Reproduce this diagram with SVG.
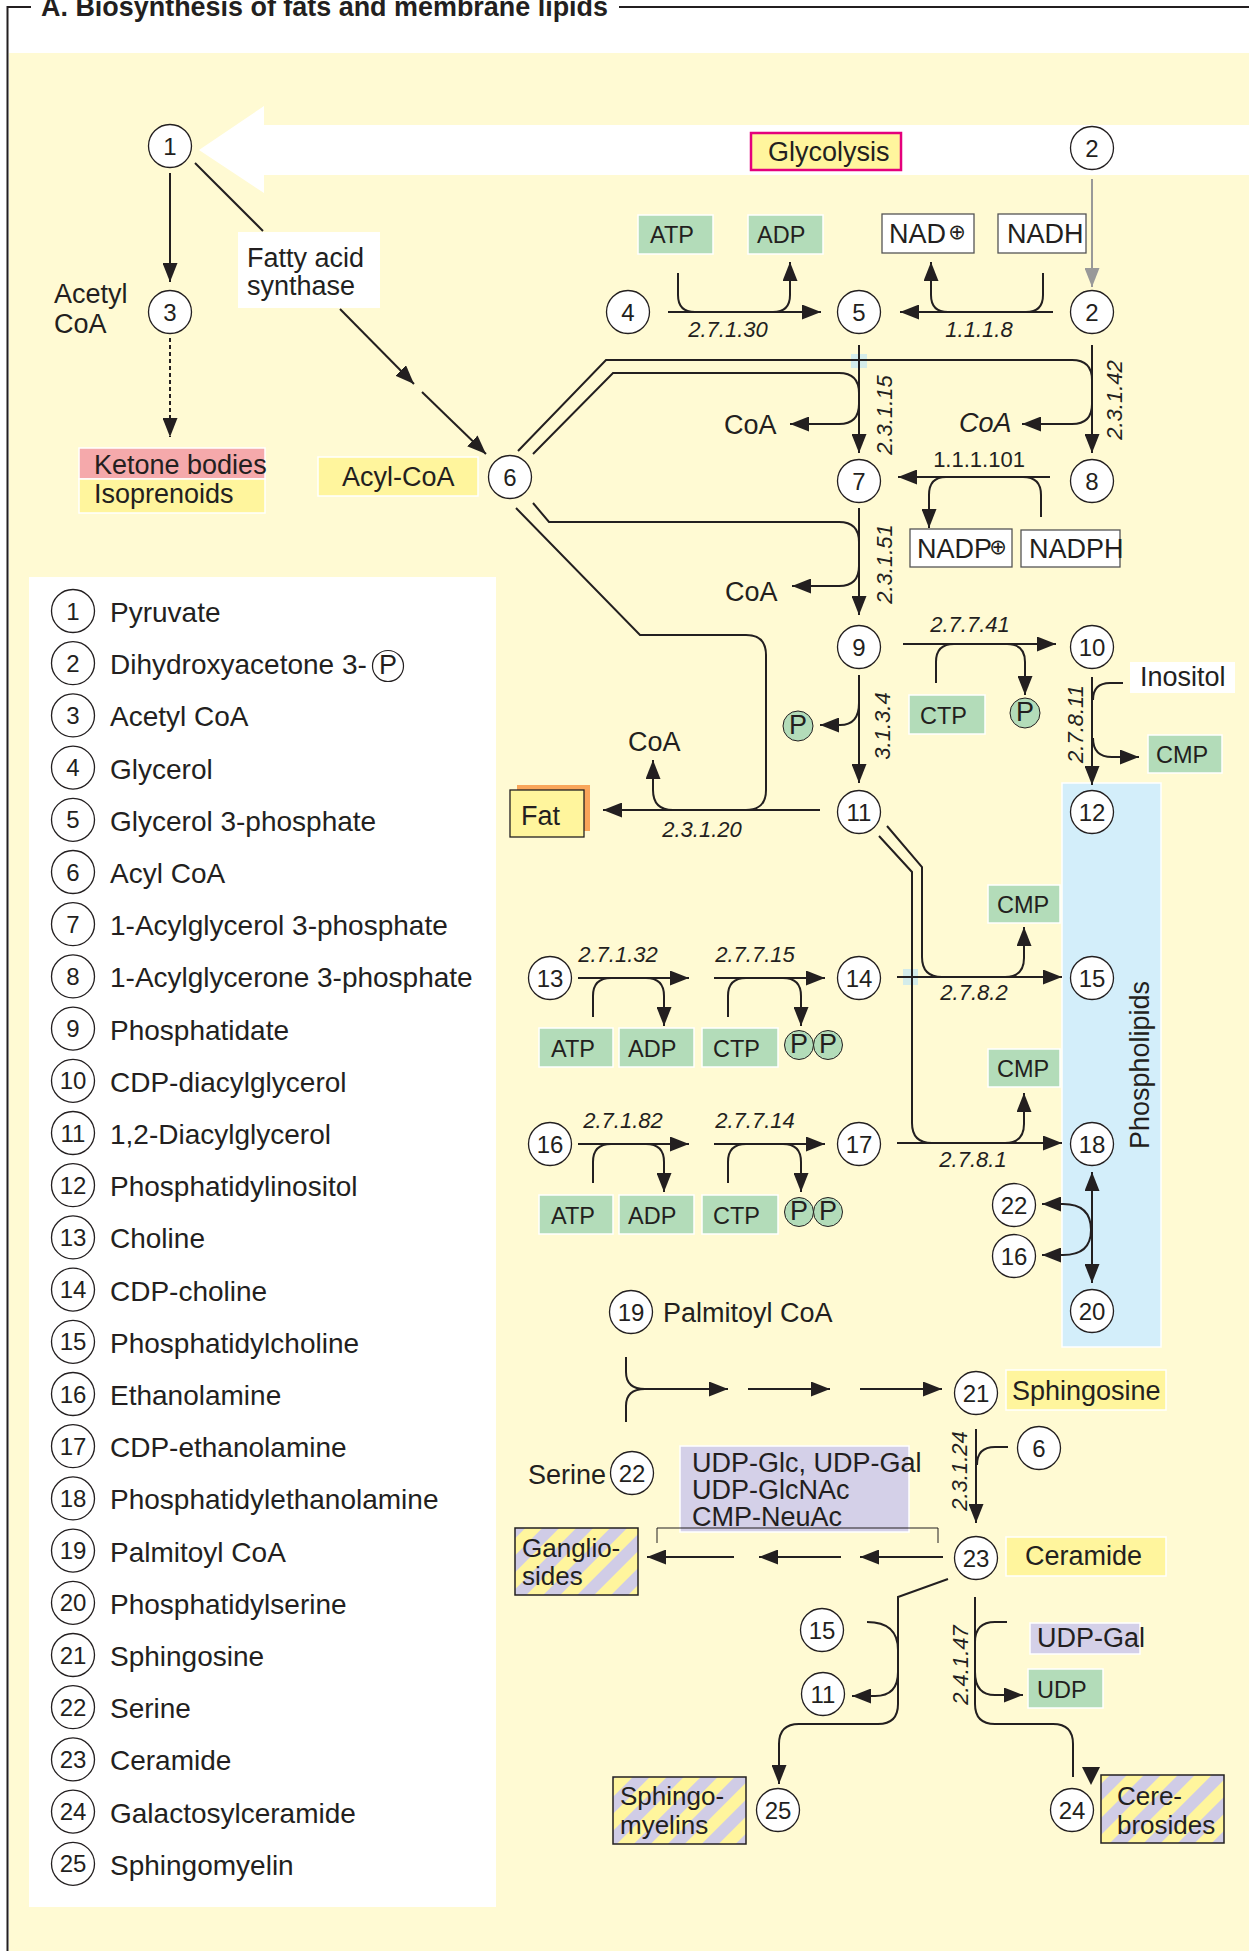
<svg xmlns="http://www.w3.org/2000/svg" width="1249" height="1951" viewBox="0 0 1249 1951">
<defs>
<style>
text{font-family:"Liberation Sans",Arial,sans-serif;fill:#231f20;font-size:27px}
.ec{font-style:italic;font-size:22px}
.ecu{font-size:22px}
.sm{font-size:23.5px}
.num{font-size:24px;text-anchor:middle}
.lg{font-size:28px}
.n circle{fill:#fff;stroke:#231f20;stroke-width:1.3}
.ln{fill:none;stroke:#231f20;stroke-width:2}
.ar{fill:none;stroke:#231f20;stroke-width:2;marker-end:url(#ah)}
.thin{fill:none;stroke:#231f20;stroke-width:1}
.green{fill:#b3dcb9;stroke:#fff;stroke-width:1.5}
.yel{fill:#fff59d;stroke:#fff;stroke-width:1.5}
.lav{fill:#d4d0e8;stroke:#fff;stroke-width:1.5}
.wbox{fill:#fff;stroke:#555;stroke-width:1.3}
.pc{fill:#b3dcb9;stroke:#231f20;stroke-width:1}
.stripe{fill:url(#stripes);stroke:#231f20;stroke-width:1.5}
.mid{text-anchor:middle}
.op{font-family:"DejaVu Sans",sans-serif;font-size:21px;text-anchor:middle}
.st{font-size:26px}
</style>
<marker id="ah" viewBox="0 0 19 15" refX="19" refY="7.5" markerWidth="19" markerHeight="15" markerUnits="userSpaceOnUse" orient="auto-start-reverse"><path d="M0,0L19,7.5L0,15z" fill="#231f20"/></marker>
<marker id="ahg" viewBox="0 0 19 15" refX="19" refY="7.5" markerWidth="19" markerHeight="15" markerUnits="userSpaceOnUse" orient="auto"><path d="M0,0L19,7.5L0,15z" fill="#999"/></marker>
<pattern id="stripes" width="24" height="24" patternUnits="userSpaceOnUse" patternTransform="rotate(45)"><rect width="24" height="24" fill="#fff59d"/><rect width="12" height="24" fill="#d0cce6"/></pattern>
</defs>

<!-- background and frame -->
<rect x="0" y="0" width="1249" height="1951" fill="#fff"/>
<rect x="9" y="53" width="1240" height="1898" fill="#fffad3"/>
<rect x="29" y="577" width="467" height="1330" fill="#fff"/>
<path d="M7.5,1951V7H31M619,7H1249" fill="none" stroke="#231f20" stroke-width="2"/>
<text x="41" y="16" font-weight="bold" font-size="30" textLength="567" lengthAdjust="spacingAndGlyphs">A. Biosynthesis of fats and membrane lipids</text>

<!-- glycolysis big arrow -->
<polygon points="199,150 264,106 264,125 1249,125 1249,175 264,175 264,193" fill="#fff"/>
<g id="glycolysis"><rect x="751" y="133" width="150" height="37" fill="#fff59d" stroke="#e4007c" stroke-width="2.5"/><text x="768" y="161">Glycolysis</text></g>

<!-- phospholipids band -->
<g id="phospholipids"><rect x="1062" y="783" width="99" height="564" fill="#d3eefa" stroke="#fff" stroke-width="1.5"/><text class="mid" transform="translate(1149,1065) rotate(-90)">Phospholipids</text></g>

<!-- crossing marks -->
<rect x="851" y="354" width="16" height="14" fill="#d4ecea"/>
<rect x="903" y="969" width="15" height="16" fill="#d4ecea"/>

<!-- labels / boxes -->
<g id="acetylcoa-label"><text x="54" y="303">Acetyl</text><text x="54" y="333">CoA</text></g>
<g id="fas"><rect x="238" y="232" width="142" height="76" fill="#fff"/><text x="247" y="267">Fatty acid</text><text x="247" y="295">synthase</text></g>
<g id="ketone"><rect x="79" y="448" width="186" height="31" fill="#f5a9ab" stroke="#fff" stroke-width="1.5"/><rect x="79" y="479" width="186" height="34" fill="#fff59d" stroke="#fff" stroke-width="1.5"/><text x="94" y="474" font-size="23">Ketone bodies</text><text x="94" y="503" font-size="23">Isoprenoids</text></g>
<g id="acylcoa"><rect class="yel" x="318" y="457" width="160" height="39"/><text x="342" y="486">Acyl-CoA</text></g>
<g id="atp1"><rect class="green" x="638" y="215" width="75" height="39"/><text class="sm" x="650" y="243">ATP</text></g>
<g id="adp1"><rect class="green" x="748" y="215" width="75" height="39"/><text class="sm" x="757" y="243">ADP</text></g>
<g id="nad"><rect class="wbox" x="882" y="214" width="92" height="39"/><text x="889" y="243" font-size="22">NAD</text><text class="op" x="957" y="239">⊕</text></g>
<g id="nadh"><rect class="wbox" x="998" y="214" width="88" height="39"/><text x="1007" y="243" font-size="22">NADH</text></g>
<g id="nadp"><rect class="wbox" x="910" y="529" width="102" height="38"/><text x="917" y="558" font-size="22">NADP</text><text class="op" x="998" y="554">⊕</text></g>
<g id="nadph"><rect class="wbox" x="1021" y="530" width="99" height="37"/><text x="1029" y="558" font-size="21">NADPH</text></g>
<text x="724" y="434" font-size="26">CoA</text>
<text x="959" y="432" font-size="26" font-style="italic">CoA</text>
<text x="725" y="601" font-size="26">CoA</text>
<text x="628" y="751" font-size="26">CoA</text>
<g id="fat"><rect x="517" y="785" width="73" height="46" fill="#f9a55a"/><rect x="510" y="790" width="74" height="47" fill="#fff59d" stroke="#231f20" stroke-width="1.3"/><text x="521" y="825">Fat</text></g>
<g id="p1"><circle class="pc" cx="798" cy="726" r="15"/><text x="798" y="734" font-size="22" class="mid">P</text></g>
<g id="ctp1"><rect class="green" x="909" y="695" width="76" height="39"/><text class="sm" x="920" y="724">CTP</text></g>
<g id="p2"><circle class="pc" cx="1025" cy="713" r="15"/><text x="1025" y="721" font-size="22" class="mid">P</text></g>
<g id="inositol"><rect x="1130" y="662" width="105" height="31" fill="#fff"/><text x="1140" y="686">Inositol</text></g>
<g id="cmp1"><rect class="green" x="1148" y="735" width="74" height="38"/><text class="sm" x="1156" y="763">CMP</text></g>
<g id="cmp2"><rect class="green" x="988" y="885" width="72" height="38"/><text class="sm" x="997" y="913">CMP</text></g>
<g id="cmp3"><rect class="green" x="988" y="1049" width="72" height="38"/><text class="sm" x="997" y="1077">CMP</text></g>
<g id="row13boxes">
<rect class="green" x="539" y="1028" width="74" height="39"/><text class="sm" x="551" y="1057">ATP</text>
<rect class="green" x="619" y="1028" width="75" height="39"/><text class="sm" x="628" y="1057">ADP</text>
<rect class="green" x="702" y="1028" width="76" height="39"/><text class="sm" x="713" y="1057">CTP</text>
<circle class="pc" cx="799" cy="1045" r="14.5"/><text x="799" y="1053" font-size="22" class="mid">P</text>
<circle class="pc" cx="828" cy="1045" r="14.5"/><text x="828" y="1053" font-size="22" class="mid">P</text>
</g>
<g id="row16boxes">
<rect class="green" x="539" y="1195" width="74" height="39"/><text class="sm" x="551" y="1224">ATP</text>
<rect class="green" x="619" y="1195" width="75" height="39"/><text class="sm" x="628" y="1224">ADP</text>
<rect class="green" x="702" y="1195" width="76" height="39"/><text class="sm" x="713" y="1224">CTP</text>
<circle class="pc" cx="799" cy="1212" r="14.5"/><text x="799" y="1220" font-size="22" class="mid">P</text>
<circle class="pc" cx="828" cy="1212" r="14.5"/><text x="828" y="1220" font-size="22" class="mid">P</text>
</g>
<text x="663" y="1322">Palmitoyl CoA</text>
<g id="sphingosine"><rect class="yel" x="1006" y="1370" width="160" height="40"/><text x="1012" y="1400">Sphingosine</text></g>
<text x="528" y="1484" font-size="26">Serine</text>
<g id="udpglc"><rect class="lav" x="680" y="1446" width="229" height="86"/><text x="692" y="1472" font-size="21">UDP-Glc, UDP-Gal</text><text x="692" y="1499" font-size="21">UDP-GlcNAc</text><text x="692" y="1526" font-size="21">CMP-NeuAc</text></g>
<g id="ceramide"><rect class="yel" x="1006" y="1537" width="160" height="39"/><text x="1025" y="1565">Ceramide</text></g>
<g id="gangliosides"><rect class="stripe" x="515" y="1528" width="123" height="67"/><text class="st" x="522" y="1557">Ganglio-</text><text class="st" x="522" y="1585">sides</text></g>
<g id="udpgal"><rect class="lav" x="1030" y="1623" width="110" height="31"/><text x="1037" y="1647" font-size="21">UDP-Gal</text></g>
<g id="udp"><rect class="green" x="1028" y="1669" width="75" height="39"/><text class="sm" x="1037" y="1698">UDP</text></g>
<g id="sphingomyelins"><rect class="stripe" x="613" y="1777" width="133" height="67"/><text class="st" x="620" y="1805">Sphingo-</text><text class="st" x="620" y="1834">myelins</text></g>
<g id="cerebrosides"><rect class="stripe" x="1101" y="1775" width="123" height="68"/><text class="st" x="1117" y="1805">Cere-</text><text class="st" x="1117" y="1834">brosides</text></g>

<!-- enzyme labels -->
<g id="ec-labels">
<text class="ec mid" x="728" y="337">2.7.1.30</text>
<text class="ec mid" x="979" y="337">1.1.1.8</text>
<text class="ecu mid" x="979" y="467">1.1.1.101</text>
<text class="ec mid" transform="translate(892,415) rotate(-90)">2.3.1.15</text>
<text class="ec mid" transform="translate(1122,400) rotate(-90)">2.3.1.42</text>
<text class="ec mid" transform="translate(892,564) rotate(-90)">2.3.1.51</text>
<text class="ec mid" transform="translate(890,726) rotate(-90)">3.1.3.4</text>
<text class="ec mid" x="970" y="632">2.7.7.41</text>
<text class="ec mid" transform="translate(1083,724) rotate(-90)">2.7.8.11</text>
<text class="ec mid" x="702" y="837">2.3.1.20</text>
<text class="ec mid" x="618" y="962">2.7.1.32</text>
<text class="ec mid" x="755" y="962">2.7.7.15</text>
<text class="ec mid" x="974" y="1000">2.7.8.2</text>
<text class="ec mid" x="623" y="1128">2.7.1.82</text>
<text class="ec mid" x="755" y="1128">2.7.7.14</text>
<text class="ec mid" x="973" y="1167">2.7.8.1</text>
<text class="ec mid" transform="translate(967,1471) rotate(-90)">2.3.1.24</text>
<text class="ec mid" transform="translate(968,1665) rotate(-90)">2.4.1.47</text>
</g>

<!-- connectors -->
<g id="connectors">
<path class="ar" d="M170,173V282"/>
<path class="ln" d="M195,163L263,231"/>
<path class="ar" d="M340,309L414,384"/>
<path class="ar" d="M422,392L486,454"/>
<path class="ar" d="M170,338V437" stroke-dasharray="4,3"/>
<path d="M1092,179V287" fill="none" stroke="#999" stroke-width="2" marker-end="url(#ahg)"/>
<path class="ar" d="M668,312H821"/>
<path class="ar" d="M678,273V295Q678,312 695,312H773Q790,312 790,295V262"/>
<path class="ar" d="M1053,312H900"/>
<path class="ar" d="M1043,273V295Q1043,312 1026,312H948Q931,312 931,295V262"/>
<path class="ar" d="M518,451L606,360H1072Q1092,360 1092,380V404Q1092,424 1072,424H1022"/>
<path class="ar" d="M533,454L613,373H839Q859,373 859,393V404Q859,424 839,424H790"/>
<path class="ar" d="M859,345V453"/>
<path class="ar" d="M1092,345V453"/>
<path class="ar" d="M1050,477H898"/>
<path class="ar" d="M1041,517V495Q1041,477 1023,477H946Q929,477 929,495V528"/>
<path class="ar" d="M533,503L549,522H839Q859,522 859,542V566Q859,586 839,586H792"/>
<path class="ar" d="M859,508V615"/>
<path class="ln" d="M516,508L640,635H746Q766,635 766,655V790Q766,810 746,810"/>
<path class="ar" d="M820,810H603"/>
<path class="ar" d="M673,810Q653,810 653,790V760"/>
<path class="ar" d="M859,675V783"/>
<path class="ar" d="M859,703Q859,725 840,725H820"/>
<path class="ar" d="M903,644H1056"/>
<path class="ar" d="M936,683V662Q936,644 954,644H1007Q1025,644 1025,662V695"/>
<path class="ar" d="M1092,677V785"/>
<path class="ln" d="M1123,683H1110Q1093,683 1093,700"/>
<path class="ar" d="M1093,738Q1093,757 1112,757H1139"/>
<path class="ln" d="M887,826L922,867V957Q922,977 942,977"/>
<path class="ln" d="M879,836L912,872V1123Q912,1143 932,1143"/>
<path class="ar" d="M578,978H689"/>
<path class="ar" d="M593,1017V996Q593,978 611,978H646Q664,978 664,996V1026"/>
<path class="ar" d="M714,978H825"/>
<path class="ar" d="M728,1017V996Q728,978 746,978H783Q801,978 801,996V1026"/>
<path class="ar" d="M897,977H1062"/>
<path class="ar" d="M1005,977Q1024,977 1024,958V927"/>
<path class="ar" d="M578,1144H689"/>
<path class="ar" d="M593,1183V1162Q593,1144 611,1144H646Q664,1144 664,1162V1192"/>
<path class="ar" d="M714,1144H825"/>
<path class="ar" d="M728,1183V1162Q728,1144 746,1144H783Q801,1144 801,1162V1192"/>
<path class="ar" d="M897,1143H1062"/>
<path class="ar" d="M1005,1143Q1024,1143 1024,1124V1093"/>
<path class="ar" d="M1092,1172V1283" style="marker-start:url(#ah)"/>
<path class="ar" d="M1091,1230Q1091,1204 1063,1204H1042"/>
<path class="ar" d="M1091,1230Q1091,1255 1063,1255H1042"/>
<path class="ln" d="M626,1357V1372Q626,1389 645,1389M626,1422V1406Q626,1389 645,1389"/>
<path class="ar" d="M645,1389H728"/>
<path class="ar" d="M748,1389H830"/>
<path class="ar" d="M860,1389H942"/>
<path class="ar" d="M976,1429V1523"/>
<path class="ln" d="M1008,1447H995Q977,1447 977,1465"/>
<path class="thin" d="M657,1543V1528H938V1543"/>
<path class="ar" d="M943,1557H860"/>
<path class="ar" d="M841,1557H759"/>
<path class="ar" d="M734,1557H647"/>
<path class="ar" d="M948,1579L898,1597V1704Q898,1724 878,1724H799Q779,1724 779,1744V1784"/>
<path class="ln" d="M867,1622Q898,1622 898,1650"/>
<path class="ar" d="M898,1672Q898,1696 875,1696H852"/>
<path class="ln" d="M975,1597V1704Q975,1724 995,1724H1053Q1073,1724 1073,1744V1777"/>
<polygon points="1082,1767 1100,1767 1091,1785" fill="#231f20"/>
<path class="ln" d="M1007,1622H995Q975,1622 975,1642"/>
<path class="ar" d="M975,1672Q975,1695 995,1695H1023"/>
</g>

<!-- nodes -->
<g class="n" id="node1"><circle cx="170" cy="146" r="21.5"/><text class="num" x="170" y="154.5">1</text></g>
<g class="n" id="node2-top"><circle cx="1092" cy="148" r="21.5"/><text class="num" x="1092" y="156.5">2</text></g>
<g class="n" id="node3"><circle cx="170" cy="312" r="21.5"/><text class="num" x="170" y="320.5">3</text></g>
<g class="n" id="node4"><circle cx="628" cy="312" r="21.5"/><text class="num" x="628" y="320.5">4</text></g>
<g class="n" id="node5"><circle cx="859" cy="312" r="21.5"/><text class="num" x="859" y="320.5">5</text></g>
<g class="n" id="node2"><circle cx="1092" cy="312" r="21.5"/><text class="num" x="1092" y="320.5">2</text></g>
<g class="n" id="node6"><circle cx="510" cy="477" r="21.5"/><text class="num" x="510" y="485.5">6</text></g>
<g class="n" id="node7"><circle cx="859" cy="481" r="21.5"/><text class="num" x="859" y="489.5">7</text></g>
<g class="n" id="node8"><circle cx="1092" cy="481" r="21.5"/><text class="num" x="1092" y="489.5">8</text></g>
<g class="n" id="node9"><circle cx="859" cy="647" r="21.5"/><text class="num" x="859" y="655.5">9</text></g>
<g class="n" id="node10"><circle cx="1092" cy="647" r="21.5"/><text class="num" x="1092" y="655.5">10</text></g>
<g class="n" id="node11"><circle cx="859" cy="812" r="21.5"/><text class="num" x="859" y="820.5">11</text></g>
<g class="n" id="node12"><circle cx="1092" cy="812" r="21.5"/><text class="num" x="1092" y="820.5">12</text></g>
<g class="n" id="node13"><circle cx="550" cy="978" r="21.5"/><text class="num" x="550" y="986.5">13</text></g>
<g class="n" id="node14"><circle cx="859" cy="978" r="21.5"/><text class="num" x="859" y="986.5">14</text></g>
<g class="n" id="node15"><circle cx="1092" cy="978" r="21.5"/><text class="num" x="1092" y="986.5">15</text></g>
<g class="n" id="node16"><circle cx="550" cy="1144" r="21.5"/><text class="num" x="550" y="1152.5">16</text></g>
<g class="n" id="node17"><circle cx="859" cy="1144" r="21.5"/><text class="num" x="859" y="1152.5">17</text></g>
<g class="n" id="node18"><circle cx="1092" cy="1144" r="21.5"/><text class="num" x="1092" y="1152.5">18</text></g>
<g class="n" id="node22-a"><circle cx="1014" cy="1205" r="21.5"/><text class="num" x="1014" y="1213.5">22</text></g>
<g class="n" id="node16-b"><circle cx="1014" cy="1256" r="21.5"/><text class="num" x="1014" y="1264.5">16</text></g>
<g class="n" id="node20"><circle cx="1092" cy="1311" r="21.5"/><text class="num" x="1092" y="1319.5">20</text></g>
<g class="n" id="node19"><circle cx="631" cy="1312" r="21.5"/><text class="num" x="631" y="1320.5">19</text></g>
<g class="n" id="node21"><circle cx="976" cy="1393" r="21.5"/><text class="num" x="976" y="1401.5">21</text></g>
<g class="n" id="node6-b"><circle cx="1039" cy="1448" r="21.5"/><text class="num" x="1039" y="1456.5">6</text></g>
<g class="n" id="node22-b"><circle cx="632" cy="1473" r="21.5"/><text class="num" x="632" y="1481.5">22</text></g>
<g class="n" id="node23"><circle cx="976" cy="1558" r="21.5"/><text class="num" x="976" y="1566.5">23</text></g>
<g class="n" id="node15-b"><circle cx="822" cy="1630" r="21.5"/><text class="num" x="822" y="1638.5">15</text></g>
<g class="n" id="node11-b"><circle cx="823" cy="1694" r="21.5"/><text class="num" x="823" y="1702.5">11</text></g>
<g class="n" id="node25"><circle cx="778" cy="1810" r="21.5"/><text class="num" x="778" y="1818.5">25</text></g>
<g class="n" id="node24"><circle cx="1072" cy="1810" r="21.5"/><text class="num" x="1072" y="1818.5">24</text></g>

<!-- legend -->
<g id="legend">
<g class="n"><circle cx="73" cy="611" r="21.5"/><text class="num" x="73" y="619.5">1</text></g><text class="lg" x="110" y="622">Pyruvate</text>
<g class="n"><circle cx="73" cy="663.2" r="21.5"/><text class="num" x="73" y="671.7">2</text></g><text class="lg" x="110" y="674.2">Dihydroxyacetone 3-</text><circle cx="388" cy="666" r="15.5" fill="none" stroke="#231f20" stroke-width="1.2"/><text x="388" y="674" font-size="22" class="mid">P</text>
<g class="n"><circle cx="73" cy="715.4" r="21.5"/><text class="num" x="73" y="723.9">3</text></g><text class="lg" x="110" y="726.4">Acetyl CoA</text>
<g class="n"><circle cx="73" cy="767.6" r="21.5"/><text class="num" x="73" y="776.1">4</text></g><text class="lg" x="110" y="778.6">Glycerol</text>
<g class="n"><circle cx="73" cy="819.8" r="21.5"/><text class="num" x="73" y="828.3">5</text></g><text class="lg" x="110" y="830.8">Glycerol 3-phosphate</text>
<g class="n"><circle cx="73" cy="872" r="21.5"/><text class="num" x="73" y="880.5">6</text></g><text class="lg" x="110" y="883">Acyl CoA</text>
<g class="n"><circle cx="73" cy="924.2" r="21.5"/><text class="num" x="73" y="932.7">7</text></g><text class="lg" x="110" y="935.2">1-Acylglycerol 3-phosphate</text>
<g class="n"><circle cx="73" cy="976.4" r="21.5"/><text class="num" x="73" y="984.9">8</text></g><text class="lg" x="110" y="987.4">1-Acylglycerone 3-phosphate</text>
<g class="n"><circle cx="73" cy="1028.6" r="21.5"/><text class="num" x="73" y="1037.1">9</text></g><text class="lg" x="110" y="1039.6">Phosphatidate</text>
<g class="n"><circle cx="73" cy="1080.8" r="21.5"/><text class="num" x="73" y="1089.3">10</text></g><text class="lg" x="110" y="1091.8">CDP-diacylglycerol</text>
<g class="n"><circle cx="73" cy="1133" r="21.5"/><text class="num" x="73" y="1141.5">11</text></g><text class="lg" x="110" y="1144">1,2-Diacylglycerol</text>
<g class="n"><circle cx="73" cy="1185.2" r="21.5"/><text class="num" x="73" y="1193.7">12</text></g><text class="lg" x="110" y="1196.2">Phosphatidylinositol</text>
<g class="n"><circle cx="73" cy="1237.4" r="21.5"/><text class="num" x="73" y="1245.9">13</text></g><text class="lg" x="110" y="1248.4">Choline</text>
<g class="n"><circle cx="73" cy="1289.6" r="21.5"/><text class="num" x="73" y="1298.1">14</text></g><text class="lg" x="110" y="1300.6">CDP-choline</text>
<g class="n"><circle cx="73" cy="1341.8" r="21.5"/><text class="num" x="73" y="1350.3">15</text></g><text class="lg" x="110" y="1352.8">Phosphatidylcholine</text>
<g class="n"><circle cx="73" cy="1394" r="21.5"/><text class="num" x="73" y="1402.5">16</text></g><text class="lg" x="110" y="1405">Ethanolamine</text>
<g class="n"><circle cx="73" cy="1446.2" r="21.5"/><text class="num" x="73" y="1454.7">17</text></g><text class="lg" x="110" y="1457.2">CDP-ethanolamine</text>
<g class="n"><circle cx="73" cy="1498.4" r="21.5"/><text class="num" x="73" y="1506.9">18</text></g><text class="lg" x="110" y="1509.4">Phosphatidylethanolamine</text>
<g class="n"><circle cx="73" cy="1550.6" r="21.5"/><text class="num" x="73" y="1559.1">19</text></g><text class="lg" x="110" y="1561.6">Palmitoyl CoA</text>
<g class="n"><circle cx="73" cy="1602.8" r="21.5"/><text class="num" x="73" y="1611.3">20</text></g><text class="lg" x="110" y="1613.8">Phosphatidylserine</text>
<g class="n"><circle cx="73" cy="1655" r="21.5"/><text class="num" x="73" y="1663.5">21</text></g><text class="lg" x="110" y="1666">Sphingosine</text>
<g class="n"><circle cx="73" cy="1707.2" r="21.5"/><text class="num" x="73" y="1715.7">22</text></g><text class="lg" x="110" y="1718.2">Serine</text>
<g class="n"><circle cx="73" cy="1759.4" r="21.5"/><text class="num" x="73" y="1767.9">23</text></g><text class="lg" x="110" y="1770.4">Ceramide</text>
<g class="n"><circle cx="73" cy="1811.6" r="21.5"/><text class="num" x="73" y="1820.1">24</text></g><text class="lg" x="110" y="1822.6">Galactosylceramide</text>
<g class="n"><circle cx="73" cy="1863.8" r="21.5"/><text class="num" x="73" y="1872.3">25</text></g><text class="lg" x="110" y="1874.8">Sphingomyelin</text>
</g>
</svg>
